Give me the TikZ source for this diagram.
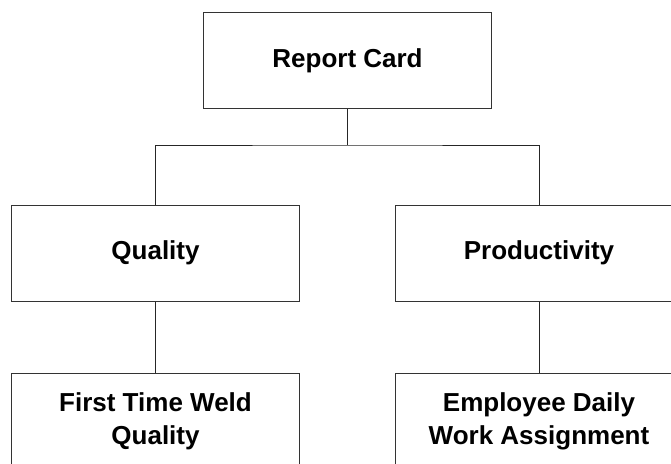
\documentclass[tikz,border=0pt]{standalone}
\usepackage{fontspec}
\setmainfont{Liberation Sans}

\tikzset{
  unit/.style={draw=black!80, line width=1pt, minimum width=288pt, minimum height=96pt,
    inner sep=0pt, align=center, font=\fontsize{26}{33}\selectfont\bfseries},
  link/.style={draw=black!85, line width=1pt}
}

\begin{document}
\begin{tikzpicture}[x=1pt, y=-1pt]
\useasboundingbox (0,0) rectangle (671,463);
\clip (0,0) rectangle (671,463);
% Nodes
\node[unit] (card) at (347.5,60.5) {Report Card};
\node[unit] (quality) at (155.5,253) {Quality};
\node[unit] (product) at (539,253) {Productivity};
\node[unit] (weld) at (155.5,421) {First Time Weld\\Quality};
\node[unit] (assign) at (539,421) {Employee Daily\\Work Assignment};
% Lines
\coordinate (split) at (347.5,145);
\draw[link] (card.south) -- (split);
\draw[link] (quality.north) |- (split) -| (product.north);
\draw[link] (quality) -- (weld);
\draw[link] (product) -- (assign);
\end{tikzpicture}
\end{document}
